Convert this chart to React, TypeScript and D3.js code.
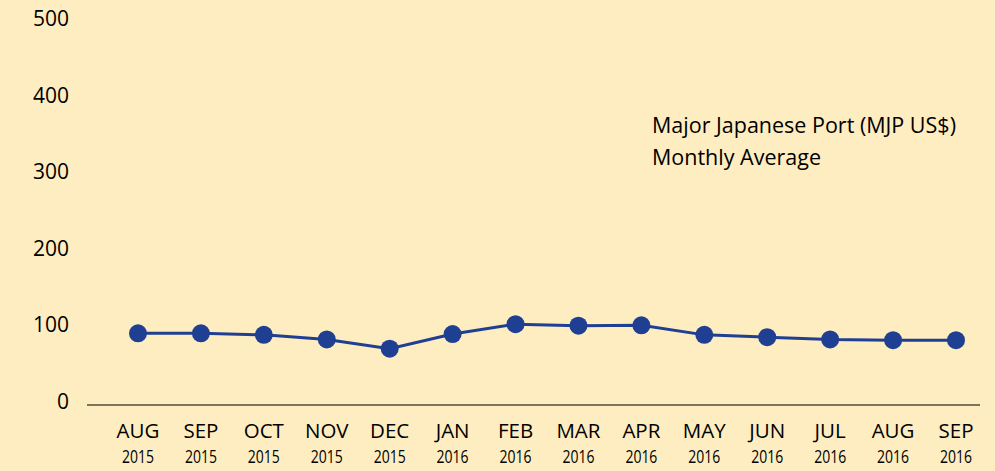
import React, { useRef, useEffect } from "react";
import * as d3 from "d3";

// month / year labels for the x axis
const months = ["AUG", "SEP", "OCT", "NOV", "DEC", "JAN", "FEB", "MAR", "APR", "MAY", "JUN", "JUL", "AUG", "SEP"];
const years = ["2015", "2015", "2015", "2015", "2015", "2016", "2016", "2016", "2016", "2016", "2016", "2016", "2016", "2016"];
// MJP US$ monthly average
const values = [89, 89, 87, 81, 69, 88, 101, 99, 99.5, 87, 84, 81, 80, 80];
const yTicks = [0, 100, 200, 300, 400, 500];
const legendLines = ["Major Japanese Port (MJP US$)", "Monthly Average"];

export default function App() {
    const svgRef = useRef<SVGSVGElement>(null);

    useEffect(() => {
        const w = 995;
        const h = 471;
        const font = "'Open Sans', 'Liberation Sans', sans-serif";
        const svg = d3.select(svgRef.current)
            .attr("width", w)
            .attr("height", h)
            .style("background", "#FEEDC0");
        svg.selectAll("*").remove();

        const xScale = d3.scalePoint<number>()
            .domain(d3.range(values.length))
            .range([138, 956]);
        const yScale = d3.scaleLinear()
            .domain([0, 500])
            .range([401.5, 18.5]);

        // y tick labels (no axis line)
        svg.append("g")
            .selectAll("text")
            .data(yTicks)
            .join("text")
            .attr("x", 69)
            .attr("y", d => yScale(d) + 7.5)
            .attr("text-anchor", "end")
            .attr("font-family", font)
            .attr("font-size", 21)
            .attr("fill", "#000")
            .text(d => d);

        // baseline
        svg.append("line")
            .attr("x1", 87).attr("x2", 980)
            .attr("y1", 405).attr("y2", 405)
            .attr("stroke", "#7C7659")
            .attr("stroke-width", 2);

        // x labels
        const xl = svg.append("g");
        xl.selectAll(".mon")
            .data(months)
            .join("text")
            .attr("class", "mon")
            .attr("x", (d, i) => xScale(i)!)
            .attr("y", 438)
            .attr("text-anchor", "middle")
            .attr("font-family", font)
            .attr("font-size", 20.5)
            .attr("fill", "#000")
            .text(d => d);
        xl.selectAll(".yr")
            .data(years)
            .join("text")
            .attr("class", "yr")
            .attr("x", (d, i) => xScale(i)!)
            .attr("y", 463)
            .attr("text-anchor", "middle")
            .attr("font-family", font)
            .attr("font-size", 18)
            .attr("textLength", 32)
            .attr("lengthAdjust", "spacingAndGlyphs")
            .attr("fill", "#000")
            .text(d => d);

        const line = d3.line<number>()
            .x((d, i) => xScale(i)!)
            .y(d => yScale(d));

        svg.append("path")
            .datum(values)
            .attr("d", line)
            .attr("fill", "none")
            .attr("stroke", "#1F3F93")
            .attr("stroke-width", 3);

        svg.append("g")
            .selectAll("circle")
            .data(values)
            .join("circle")
            .attr("cx", (d, i) => xScale(i)!)
            .attr("cy", d => yScale(d))
            .attr("r", 9)
            .attr("fill", "#1F3F93");

        // legend text
        svg.append("g")
            .selectAll("text")
            .data(legendLines)
            .join("text")
            .attr("x", 652)
            .attr("y", (d, i) => 133 + i * 32)
            .attr("font-family", font)
            .attr("font-size", 21.5)
            .attr("fill", "#000")
            .text(d => d);
    }, []);

    return (
        <div style={{ position: "absolute", left: 0, top: 0 }}>
            <svg ref={svgRef} style={{ display: "block" }}></svg>
        </div>
    );
}
